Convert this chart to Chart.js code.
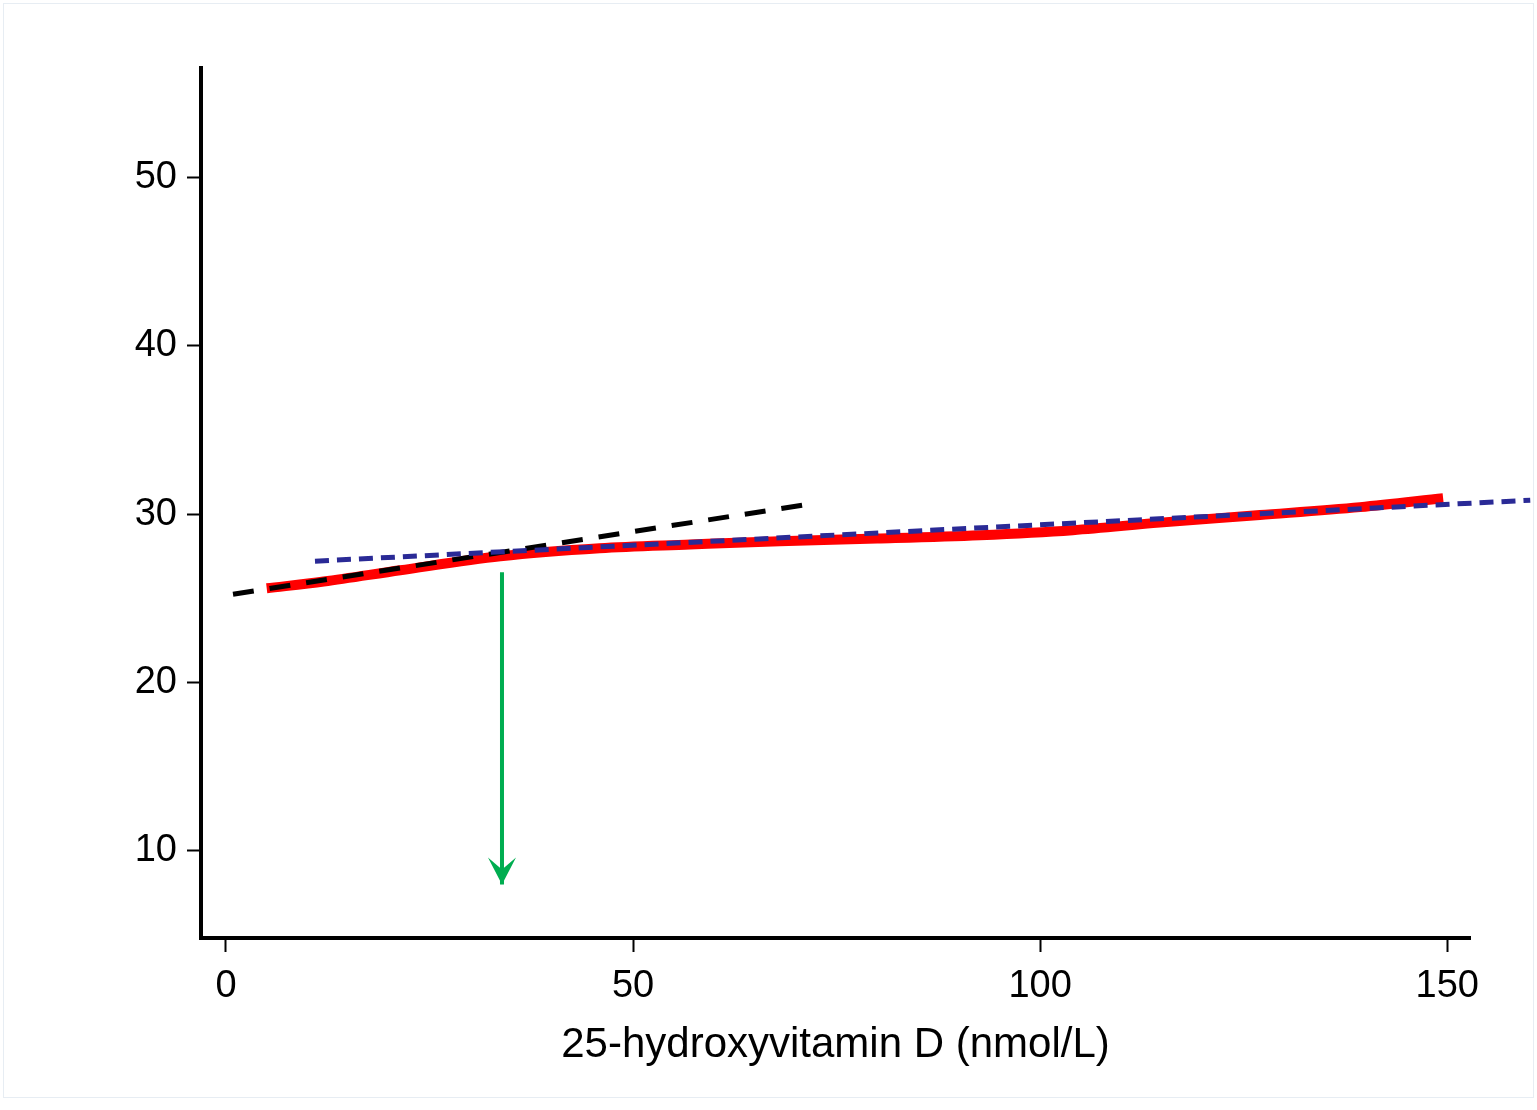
<!DOCTYPE html>
<html>
<head>
<meta charset="utf-8">
<script src="https://cdn.jsdelivr.net/npm/chart.js@4.4.1/dist/chart.umd.min.js"></script>
<style>
    html, body { margin: 0; padding: 0; background: #fff; }
    #wrap { position: relative; width: 1537px; height: 1110px; }
    #frame { position: absolute; left: 3px; top: 3px; right: 3px; bottom: 12px; border: 1px solid #e7edf3; pointer-events: none; }
    canvas { display: block; }
</style>
</head>
<body>
<div id="wrap">
    <canvas id="vitChart" width="1537" height="1110"></canvas>
    <div id="frame"></div>
</div>
<script>
// ticks
const xTicks = [0, 50, 100, 150];
const yTicks = [10, 20, 30, 40, 50];

// fitted curve (red, thick)
const curveX = [5.0, 12, 21.4, 33.7, 45.9, 57, 68, 80, 92.6, 104, 114.7, 127, 139.3, 149.5];
const curveY = [25.6, 26.0, 26.67, 27.5, 27.98, 28.2, 28.4, 28.55, 28.75, 29.05, 29.5, 29.95, 30.42, 30.95];

// linear fit below threshold (black dashed)
const lowFitX = [0.86, 71.5];
const lowFitY = [25.25, 30.59];

// linear fit above threshold (blue dashed)
const highFitX = [10.93, 160.2];
const highFitY = [27.21, 30.83];

// threshold arrow (green)
const arrowX = [33.9, 33.9];
const arrowY = [26.55, 8.0];

const toPoints = (xs, ys) => xs.map((x, i) => ({ x: x, y: ys[i] }));

const FONT = "'Liberation Sans', Arial, sans-serif";
const GREEN = '#00ad50';

// arrowhead at last point of the arrow dataset
const arrowHead = {
    id: 'arrowHead',
    afterDatasetsDraw(chart) {
        const meta = chart.getDatasetMeta(3);
        const tip = meta.data[meta.data.length - 1];
        const ctx = chart.ctx;
        ctx.save();
        ctx.fillStyle = GREEN;
        ctx.beginPath();
        ctx.moveTo(tip.x, tip.y);
        ctx.lineTo(tip.x - 14, tip.y - 27);
        ctx.lineTo(tip.x, tip.y - 15);
        ctx.lineTo(tip.x + 14, tip.y - 27);
        ctx.closePath();
        ctx.fill();
        ctx.restore();
    }
};

const ctx = document.getElementById('vitChart').getContext('2d');
new Chart(ctx, {
    type: 'line',
    data: {
        datasets: [
            {
                data: toPoints(highFitX, highFitY),
                borderColor: '#2a2a96',
                borderWidth: 5,
                borderDash: [14, 8],
                pointRadius: 0,
                clip: false,
                order: 1
            },
            {
                data: toPoints(curveX, curveY),
                borderColor: '#ff0000',
                borderWidth: 10,
                cubicInterpolationMode: 'monotone',
                pointRadius: 0,
                order: 3
            },
            {
                data: toPoints(lowFitX, lowFitY),
                borderColor: '#000000',
                borderWidth: 5,
                borderDash: [21, 16],
                pointRadius: 0,
                order: 2
            },
            {
                data: toPoints(arrowX, arrowY),
                borderColor: GREEN,
                borderWidth: 4,
                borderCapStyle: 'butt',
                pointRadius: 0,
                order: 0
            }
        ]
    },
    options: {
        responsive: false,
        animation: false,
        events: [],
        layout: { padding: { top: 68, right: 67, left: 0, bottom: 0 } },
        plugins: {
            legend: { display: false },
            tooltip: { enabled: false }
        },
        scales: {
            x: {
                type: 'linear',
                min: -3.07,
                max: 152.8,
                afterBuildTicks: s => { s.ticks = xTicks.map(v => ({ value: v })); },
                afterFit: s => { s.height = 172; },
                border: { display: true, color: '#000', width: 4 },
                grid: { display: true, drawOnChartArea: false, drawTicks: true, tickLength: 14, tickWidth: 2, tickColor: '#000' },
                ticks: { color: '#000', font: { family: FONT, size: 38 }, padding: 12, maxRotation: 0 },
                title: {
                    display: true,
                    text: '25-hydroxyvitamin D (nmol/L)',
                    color: '#000',
                    font: { family: FONT, size: 42 },
                    padding: { top: 0, bottom: 39 }
                }
            },
            y: {
                type: 'linear',
                min: 4.83,
                max: 56.5,
                afterBuildTicks: s => { s.ticks = yTicks.map(v => ({ value: v })); },
                afterFit: s => { s.width = 201; },
                border: { display: true, color: '#000', width: 4 },
                grid: { display: true, drawOnChartArea: false, drawTicks: true, tickLength: 14, tickWidth: 2, tickColor: '#000' },
                ticks: { color: '#000', font: { family: FONT, size: 38 }, padding: 10 }
            }
        }
    },
    plugins: [arrowHead]
});
</script>
</body>
</html>
